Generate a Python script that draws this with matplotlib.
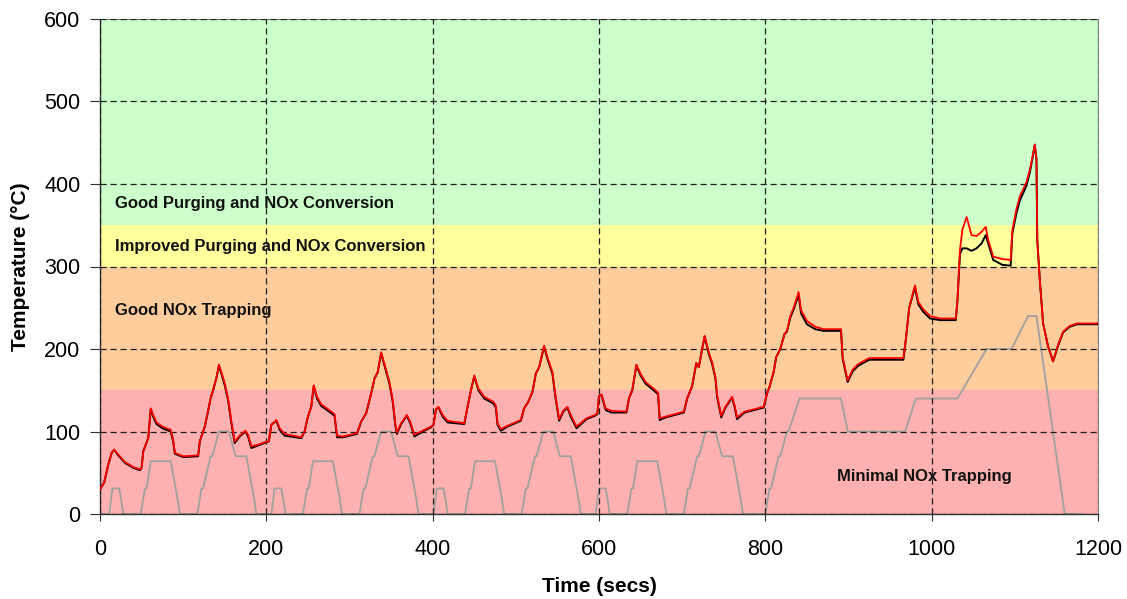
import numpy as np
import matplotlib
matplotlib.use("Agg")
import matplotlib.pyplot as plt

# temperature bands (lower, upper, colour)
BANDS = [
    (0, 150, "#FFB0B0"),
    (150, 300, "#FFCC9C"),
    (300, 350, "#FFFF9C"),
    (350, 600, "#CCFFCC"),
]

BAND_LABELS = [
    (18, 376, "Good Purging and NOx Conversion", "left"),
    (18, 324, "Improved Purging and NOx Conversion", "left"),
    (18, 247, "Good NOx Trapping", "left"),
    (991, 46, "Minimal NOx Trapping", "center"),
]

# drive cycle trace (plotted on the temperature axis)
ECE_T = [0, 11, 15, 23, 25, 28, 49, 54, 56, 61, 85, 93, 96, 117, 122, 124,
         133, 135, 143, 155, 163, 176, 185, 188, 195]
ECE_V = [0, 0, 31, 31, 20, 0, 0, 31, 31, 64, 64, 20, 0, 0, 31, 31,
         70, 70, 100, 100, 70, 70, 20, 0, 0]
ECE_STARTS = [0, 195, 390, 585]

EUDC_T = [780, 800, 805, 807, 816, 818, 826, 828, 841, 891, 899, 968, 981,
          1031, 1066, 1096, 1116, 1126, 1160, 1180]
EUDC_V = [0, 0, 31, 31, 70, 70, 100, 100, 140, 140, 100, 100, 140,
          140, 200, 200, 240, 240, 0, 0]

# measured temperatures
TIME = [0, 5, 10, 14, 17, 22, 30, 40, 48, 50, 52, 55, 58, 61, 64, 68, 75, 85,
        88, 90, 100, 118, 120, 126, 130, 133, 136, 140, 143, 146, 150, 154,
        158, 162, 168, 175, 178, 182, 190, 198, 203, 206, 212, 216, 222, 242,
        246, 250, 254, 257, 261, 266, 277, 282, 285, 292, 309, 314, 320, 326,
        330, 334, 338, 342, 348, 352, 355, 357, 362, 369, 373, 378, 390, 398,
        401, 404, 407, 412, 418, 438, 441, 445, 450, 455, 462, 473, 476, 478,
        482, 490, 506, 510, 515, 520, 524, 528, 534, 538, 544, 547, 552, 557,
        562, 566, 573, 585, 595, 598, 600, 603, 608, 615, 633, 636, 640, 645,
        650, 656, 668, 671, 673, 680, 702, 706, 712, 717, 720, 724, 727, 732,
        736, 740, 742, 747, 752, 760, 763, 766, 775, 790, 798, 802, 805, 810,
        813, 818, 823, 826, 830, 834, 840, 843, 850, 860, 870, 891, 893, 899,
        905, 912, 925, 966, 969, 973, 978, 980, 984, 990, 998, 1010, 1029,
        1031, 1034, 1037, 1042, 1048, 1054, 1060, 1065, 1068, 1074, 1085,
        1095, 1097, 1102, 1106, 1114, 1118, 1121, 1124, 1126, 1127, 1130,
        1134, 1140, 1146, 1152, 1158, 1166, 1175, 1200]

TEMP_RED = [30, 38, 60, 74, 78, 72, 63, 57, 54, 56, 76, 84, 92, 128, 120, 111,
            106, 102, 90, 74, 70, 71, 88, 106, 125, 140, 150, 165, 181, 172,
            158, 140, 112, 88, 95, 101, 96, 82, 84, 87, 88, 108, 114, 104, 97,
            93, 100, 118, 130, 156, 142, 133, 125, 121, 95, 94, 98, 112, 122,
            146, 164, 172, 196, 182, 160, 138, 110, 99, 110, 120, 112, 96, 102,
            106, 108, 127, 130, 120, 113, 110, 125, 145, 168, 152, 142, 136,
            131, 110, 103, 107, 114, 128, 136, 148, 170, 178, 204, 190, 172,
            148, 115, 125, 130, 120, 106, 116, 120, 122, 143, 145, 128, 125,
            124, 140, 150, 181, 170, 160, 150, 147, 116, 118, 124, 140, 155,
            183, 178, 200, 216, 196, 184, 166, 144, 119, 130, 142, 132, 117,
            124, 128, 130, 146, 154, 172, 190, 200, 218, 222, 240, 250, 269,
            247, 234, 227, 224, 224, 190, 162, 175, 182, 189, 189, 212, 250,
            270, 277, 257, 248, 240, 237, 237, 259, 320, 345, 360, 338, 337,
            342, 348, 332, 312, 309, 308, 344, 370, 385, 402, 417, 432, 448,
            430, 332, 284, 231, 203, 185, 205, 221, 228, 231, 231]

TEMP_BLACK = [30, 38, 60, 74, 78, 71, 62, 56, 53, 56, 76, 84, 92, 127, 118, 109,
              104, 100, 88, 73, 69, 70, 88, 106, 125, 140, 150, 165, 180, 170,
              156, 138, 110, 86, 94, 100, 94, 80, 83, 86, 88, 108, 113, 102, 95,
              92, 100, 118, 130, 155, 140, 131, 123, 119, 93, 93, 97, 112, 122,
              146, 164, 172, 195, 180, 158, 136, 108, 97, 109, 119, 110, 94, 101,
              105, 108, 127, 129, 118, 111, 109, 125, 145, 167, 150, 140, 134,
              129, 108, 101, 106, 113, 128, 136, 148, 170, 178, 203, 188, 170,
              146, 113, 124, 129, 118, 104, 115, 119, 121, 143, 144, 126, 123,
              123, 140, 150, 180, 168, 158, 148, 145, 114, 117, 123, 140, 155,
              183, 178, 200, 215, 194, 182, 164, 142, 117, 129, 141, 130, 115,
              123, 127, 129, 146, 154, 172, 190, 200, 218, 221, 238, 248, 266,
              243, 230, 224, 222, 222, 188, 160, 173, 180, 187, 187, 212, 250,
              268, 274, 254, 245, 237, 235, 235, 258, 315, 322, 322, 319, 322,
              328, 338, 328, 308, 302, 301, 340, 365, 380, 398, 414, 430, 447,
              430, 332, 284, 231, 203, 185, 204, 220, 227, 230, 230]

plt.rcParams.update({
    "font.family": ["Liberation Sans", "DejaVu Sans"],
    "font.size": 15,
})

fig = plt.figure(figsize=(11.27, 5.99), dpi=100)
ax = fig.add_axes([100 / 1127, 1 - 514 / 599, 998 / 1127, 495 / 599])

for lo, hi, col in BANDS:
    ax.axhspan(lo, hi, color=col, lw=0, zorder=0)

ax.set_xlim(0, 1200)
ax.set_ylim(0, 600)
ax.set_xticks(np.arange(0, 1201, 200))
ax.set_yticks(np.arange(0, 601, 100))
ax.grid(True, color="#202020", ls=(0, (5, 3)), lw=0.9, zorder=1)
ax.set_axisbelow(False)

# drive cycle
for s in ECE_STARTS:
    ax.plot(np.array(ECE_T) + s, ECE_V, color="#A0A0A0", lw=1.3, zorder=2)
ax.plot(EUDC_T, EUDC_V, color="#A0A0A0", lw=1.3, zorder=2)

ax.plot(TIME, TEMP_BLACK, color="black", lw=1.4, zorder=3)
ax.plot(TIME, TEMP_RED, color="#FF0000", lw=1.3, zorder=4)

for x, y, txt, ha in BAND_LABELS:
    ax.text(x, y, txt, ha=ha, va="center", fontsize=12,
            fontweight="bold", color="#111111", zorder=5)

for side in ["top", "right"]:
    ax.spines[side].set_color("#808080")
for side in ["left", "bottom"]:
    ax.spines[side].set_color("#303030")
    ax.spines[side].set_linewidth(1.0)

ax.tick_params(axis="y", direction="out", length=7, pad=7, labelsize=15.5,
               color="#303030")
ax.tick_params(axis="x", direction="out", length=5, pad=13, labelsize=15.5,
               color="#303030")

ax.set_xlabel("Time (secs)", fontsize=15, fontweight="bold", labelpad=12)
ax.set_ylabel("Temperature (\u00b0C)", fontsize=15, fontweight="bold",
              labelpad=10)

fig.savefig("out.png", dpi=100)
